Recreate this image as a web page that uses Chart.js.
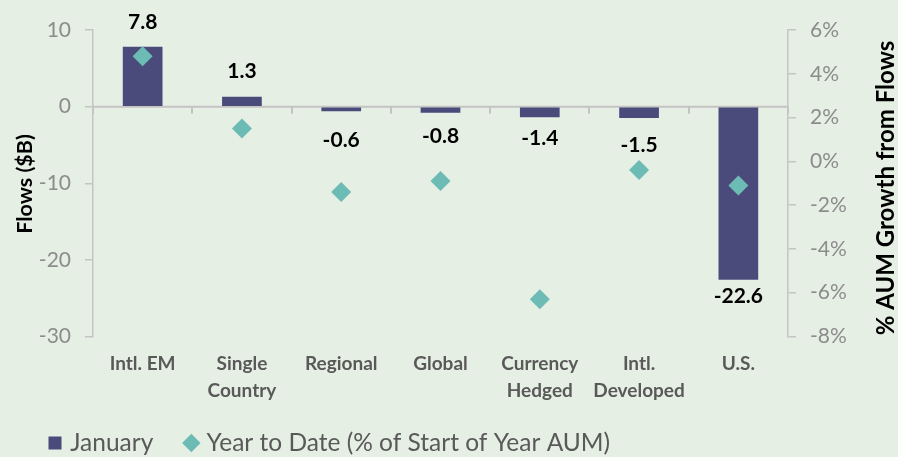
<!DOCTYPE html>
<html>
<head>
<meta charset="utf-8">
<script src="https://cdn.jsdelivr.net/npm/chart.js@4/dist/chart.umd.min.js"></script>
<style>
  html, body { margin: 0; padding: 0; background: #E5EFE3; }
  #wrap { width: 898px; height: 457px; position: relative; }
</style>
</head>
<body>
<div id="wrap"><canvas id="c" width="898" height="457"></canvas></div>
<script>
// ---- data ----
const categories = [["Intl. EM"], ["Single", "Country"], ["Regional"], ["Global"], ["Currency", "Hedged"], ["Intl.", "Developed"], ["U.S."]];
const januaryFlows = [7.8, 1.3, -0.6, -0.8, -1.4, -1.5, -22.6];
const ytdGrowthPct = [4.8, 1.5, -1.4, -0.9, -6.3, -0.4, -1.1];
const leftTicks = [-30, -20, -10, 0, 10];
const rightTicks = [-8, -6, -4, -2, 0, 2, 4, 6];
const seriesNames = ["January", "Year to Date (% of Start of Year AUM)"];
const axisTitles = { left: "Flows ($B)", right: "% AUM Growth from Flows" };

// ---- style ----
const FONT = "Lato, 'Open Sans', sans-serif";
const BAR_COLOR = "#4B4B7B";
const DIAMOND_COLOR = "#6CBBB5";
const AXIS_COLOR = "#C4C4C4";
const labelGap = [25, 25, 29, 23, 21, 27, 16];
const LEGEND_FONT = 24.5;
const LEGEND_PAD = 35;

const bgPlugin = {
  id: 'bg',
  beforeDraw(chart) {
    const ctx = chart.ctx;
    ctx.save();
    ctx.fillStyle = '#E5EFE3';
    ctx.fillRect(0, 0, chart.width, chart.height);
    ctx.restore();
  }
};

const zeroLinePlugin = {
  id: 'zeroLine',
  beforeDatasetsDraw(chart) {
    const ctx = chart.ctx, ys = chart.scales.y, ca = chart.chartArea;
    const y0 = ys.getPixelForValue(0);
    ctx.save();
    ctx.strokeStyle = AXIS_COLOR;
    ctx.lineWidth = 2;
    ctx.beginPath();
    ctx.moveTo(ca.left, y0);
    ctx.lineTo(ca.right, y0);
    const n = chart.data.labels.length;
    const step = (ca.right - ca.left) / n;
    for (let i = 0; i <= n; i++) {
      const x = Math.round(ca.left + i * step);
      ctx.moveTo(x, y0);
      ctx.lineTo(x, y0 + 7);
    }
    ctx.stroke();
    ctx.restore();
  }
};

const labelPlugin = {
  id: 'barLabels',
  afterDatasetsDraw(chart) {
    const ctx = chart.ctx;
    const meta = chart.getDatasetMeta(0);
    ctx.save();
    ctx.font = "bold 21px " + FONT;
    ctx.fillStyle = "#000";
    ctx.textAlign = "center";
    ctx.textBaseline = "middle";
    meta.data.forEach((bar, i) => {
      const v = januaryFlows[i];
      const y = v >= 0 ? bar.y - labelGap[i] : bar.y + labelGap[i];
      ctx.fillText(v.toFixed(1), bar.x, y);
    });
    ctx.restore();
  }
};

const titlePlugin = {
  id: 'axisTitles',
  afterDraw(chart) {
    const ctx = chart.ctx;
    ctx.save();
    ctx.fillStyle = "#000";
    ctx.textAlign = "center";
    ctx.textBaseline = "middle";
    ctx.font = "bold 21.5px " + FONT;
    ctx.translate(25, 184);
    ctx.rotate(-Math.PI / 2);
    ctx.fillText(axisTitles.left, 0, 0);
    ctx.restore();
    ctx.save();
    ctx.fillStyle = "#000";
    ctx.textAlign = "center";
    ctx.textBaseline = "middle";
    ctx.font = "bold 24px " + FONT;
    ctx.translate(886, 188);
    ctx.rotate(-Math.PI / 2);
    ctx.fillText(axisTitles.right, 0, 0);
    ctx.restore();
  }
};

const legendShift = {
  id: 'legendShift',
  afterLayout(chart) {
    const lg = chart.legend;
    const h = lg.bottom - lg.top;
    const w = lg.right - lg.left;
    lg.left = 52 - LEGEND_PAD;
    lg.right = lg.left + w;
    lg.top = 443 - LEGEND_PAD - LEGEND_FONT / 2;
    lg.bottom = lg.top + h;
  }
};

new Chart(document.getElementById('c'), {
  data: {
    labels: categories,
    datasets: [
      {
        type: 'bar',
        label: seriesNames[0],
        data: januaryFlows,
        backgroundColor: BAR_COLOR,
        borderWidth: 0,
        barPercentage: 0.4,
        categoryPercentage: 1.0,
        yAxisID: 'y',
        order: 2,
        pointStyle: 'rect'
      },
      {
        type: 'line',
        label: seriesNames[1],
        data: ytdGrowthPct,
        showLine: false,
        pointStyle: 'rectRot',
        pointRadius: 10,
        pointHoverRadius: 10,
        pointBackgroundColor: DIAMOND_COLOR,
        pointBorderWidth: 0,
        backgroundColor: DIAMOND_COLOR,
        borderColor: DIAMOND_COLOR,
        yAxisID: 'y1',
        order: 1
      }
    ]
  },
  options: {
    responsive: false,
    animation: false,
    devicePixelRatio: 1,
    layout: { padding: { top: 30, left: 0, right: 0, bottom: -19 } },
    plugins: {
      tooltip: { enabled: false },
      legend: {
        position: 'bottom',
        align: 'start',
        labels: {
          usePointStyle: true,
          boxWidth: 6,
          boxHeight: 13,
          padding: LEGEND_PAD,
          color: '#595959',
          font: { family: FONT, size: LEGEND_FONT },
          sort: (a, b) => a.datasetIndex - b.datasetIndex
        }
      }
    },
    scales: {
      x: {
        type: 'category',
        offset: true,
        grid: { display: false, drawTicks: false },
        border: { display: false },
        ticks: {
          color: '#595959',
          font: { family: FONT, size: 19, weight: 'bold', lineHeight: 1.4 },
          padding: 14,
          maxRotation: 0,
          autoSkip: false
        },
        afterFit(s) { s.height = 70; }
      },
      y: {
        position: 'left',
        min: -30, max: 10,
        afterBuildTicks(s) { s.ticks = leftTicks.map(v => ({ value: v })); },
        grid: { drawOnChartArea: false, drawTicks: true, tickLength: 8, color: AXIS_COLOR, lineWidth: 1.5 },
        border: { display: true, color: AXIS_COLOR, width: 1.5 },
        ticks: { color: '#8C8C8C', font: { family: FONT, size: 21 }, padding: 14 },
        afterFit(s) { s.width = 93; }
      },
      y1: {
        position: 'right',
        min: -8, max: 6,
        afterBuildTicks(s) { s.ticks = rightTicks.map(v => ({ value: v })); },
        grid: { drawOnChartArea: false, drawTicks: true, tickLength: 8, color: AXIS_COLOR, lineWidth: 1.5 },
        border: { display: true, color: AXIS_COLOR, width: 1.5 },
        ticks: { color: '#8C8C8C', font: { family: FONT, size: 21 }, padding: 14, callback: v => v + '%' },
        afterFit(s) { s.width = 110; }
      }
    }
  },
  plugins: [bgPlugin, zeroLinePlugin, labelPlugin, titlePlugin, legendShift]
});
</script>
</body>
</html>
